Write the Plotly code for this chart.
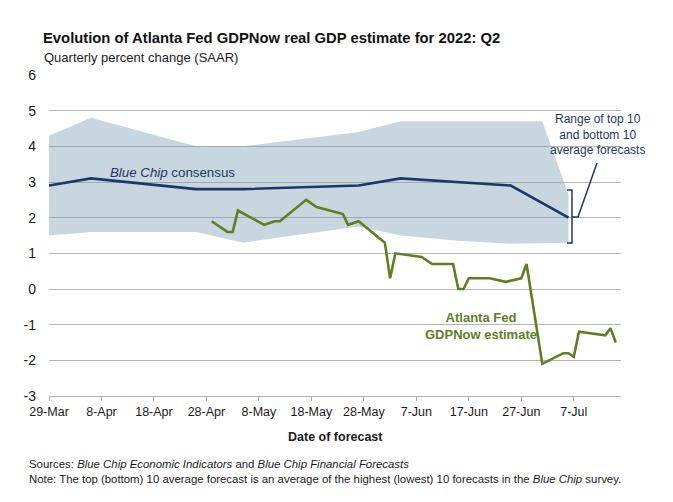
import plotly.graph_objects as go
from datetime import date, timedelta

# ---------------- data ----------------
bc_dates = ["2022-03-29", "2022-04-06", "2022-04-26", "2022-05-05", "2022-05-27",
            "2022-06-04", "2022-06-25", "2022-07-06"]
bc_values = [2.9, 3.1, 2.8, 2.8, 2.9, 3.1, 2.9, 2.0]

band_upper_dates = ["2022-03-29", "2022-04-06", "2022-04-26", "2022-05-05", "2022-05-27",
                    "2022-06-04", "2022-06-25", "2022-07-01", "2022-07-06"]
band_upper = [4.3, 4.8, 4.0, 4.0, 4.4, 4.7, 4.7, 4.7, 2.65]
band_lower_dates = ["2022-03-29", "2022-04-06", "2022-04-26", "2022-05-05", "2022-05-27",
                    "2022-06-04", "2022-06-15", "2022-06-25", "2022-07-06"]
band_lower = [1.5, 1.6, 1.6, 1.3, 1.75, 1.5, 1.35, 1.27, 1.3]

gdpnow_dates = ["2022-04-29", "2022-05-02", "2022-05-03", "2022-05-04", "2022-05-09",
                "2022-05-11", "2022-05-12", "2022-05-17", "2022-05-19", "2022-05-24",
                "2022-05-25", "2022-05-27", "2022-06-01", "2022-06-02", "2022-06-03",
                "2022-06-08", "2022-06-10", "2022-06-14", "2022-06-15", "2022-06-16",
                "2022-06-17", "2022-06-21", "2022-06-24", "2022-06-27", "2022-06-28",
                "2022-07-01", "2022-07-05", "2022-07-06", "2022-07-07", "2022-07-08",
                "2022-07-13", "2022-07-14", "2022-07-15"]
gdpnow_values = [1.9, 1.6, 1.6, 2.2, 1.8, 1.9, 1.9, 2.5, 2.3, 2.1,
                 1.8, 1.9, 1.3, 0.3, 1.0, 0.9, 0.7, 0.7, 0.0, 0.0,
                 0.3, 0.3, 0.2, 0.3, 0.7, -2.1, -1.8, -1.8, -1.9, -1.2,
                 -1.3, -1.1, -1.5]

x_start = date(2022, 3, 29)
x_end = date(2022, 7, 16)
tick_dates = [x_start + timedelta(days=10 * i) for i in range(11)]
tick_labels = [f"{d.day}-{d.strftime('%b')}" for d in tick_dates]
y_ticks = list(range(-3, 7))

NAVY = "#1c3866"
GREEN = "#5f7f22"
FONT = "Liberation Sans, Arial, sans-serif"

fig = go.Figure()

# range band as a polygon
fig.add_trace(go.Scatter(
    x=band_upper_dates + band_lower_dates[::-1],
    y=band_upper + band_lower[::-1],
    fill="toself", fillcolor="rgba(118,152,178,0.40)",
    line=dict(width=0), mode="lines", hoverinfo="skip", showlegend=False))

fig.add_trace(go.Scatter(x=bc_dates, y=bc_values, mode="lines",
                         line=dict(color=NAVY, width=2.6), showlegend=False))
fig.add_trace(go.Scatter(x=gdpnow_dates, y=gdpnow_values, mode="lines",
                         line=dict(color=GREEN, width=2.6), showlegend=False))

fig.update_layout(
    width=673, height=502,
    margin=dict(l=49, r=52, t=75, b=106),
    paper_bgcolor="white", plot_bgcolor="white",
    font=dict(family=FONT, color="#1a1a1a"),
    showlegend=False,
)
fig.update_xaxes(
    type="date",
    range=[x_start.isoformat(), x_end.isoformat()],
    tickvals=[d.isoformat() for d in tick_dates], ticktext=tick_labels,
    tickfont=dict(size=12.5, color="#1a1a1a"),
    ticks="outside", ticklen=4, tickcolor="#a8a8a8",
    showgrid=False, showline=True, linecolor="#b0b0b0", linewidth=1,
    zeroline=False,
)
fig.update_yaxes(
    range=[-3, 6], tickvals=y_ticks, ticktext=[str(v) for v in y_ticks],
    tickfont=dict(size=14, color="#1a1a1a"),
    showgrid=True, gridcolor="#b5b5b5", gridwidth=1,
    zeroline=False, showline=False, ticks="", ticklabelstandoff=12,
)

def px_x(px):
    return (px - 49) / 572.0

def px_y(py):
    return (396 - py) / 321.0

ann = [
    dict(text="<b>Evolution of Atlanta Fed GDPNow real GDP estimate for 2022: Q2</b>",
         x=px_x(41), y=px_y(38), xanchor="left", yanchor="middle",
         font=dict(size=14.8, color="#111111")),
    dict(text="Quarterly percent change (SAAR)",
         x=px_x(42), y=px_y(57), xanchor="left", yanchor="middle",
         font=dict(size=13, color="#1a1a1a")),
    dict(text="<b>Date of forecast</b>",
         x=0.5, y=px_y(437), xanchor="center", yanchor="middle",
         font=dict(size=12.5, color="#1a1a1a")),
    dict(text="Sources: <i>Blue Chip Economic Indicators</i> and <i>Blue Chip Financial Forecasts</i>",
         x=px_x(27), y=px_y(464), xanchor="left", yanchor="middle",
         font=dict(size=11.4, color="#1a1a1a")),
    dict(text="Note: The top (bottom) 10 average forecast is an average of the highest (lowest) 10 forecasts in the <i>Blue Chip</i> survey.",
         x=px_x(27), y=px_y(479), xanchor="left", yanchor="middle",
         font=dict(size=11.4, color="#1a1a1a")),
    dict(text="<i>Blue Chip</i> consensus",
         x=px_x(108), y=px_y(172), xanchor="left", yanchor="middle",
         font=dict(size=13.3, color=NAVY)),
    dict(text="<b>Atlanta Fed<br>GDPNow estimate</b>",
         x=px_x(481), y=px_y(326), xanchor="center", yanchor="middle",
         font=dict(size=13, color=GREEN)),
    dict(text="Range of top 10<br>and bottom 10<br>average forecasts",
         x=px_x(597), y=px_y(134), xanchor="center", yanchor="middle",
         font=dict(size=12, color=NAVY)),
]
for a in ann:
    a.update(xref="paper", yref="paper", showarrow=False)
fig.update_layout(annotations=ann)

# bracket for range annotation
bx0, bx1, bx2, bx3 = px_x(567), px_x(572), px_x(578), px_x(597)
by0, by1, by2, by3 = px_y(190), px_y(243), px_y(217), px_y(163)
fig.add_shape(type="path", xref="paper", yref="paper",
              path=f"M {bx0},{by0} L {bx1},{by0} L {bx1},{by1} L {bx0},{by1} "
                   f"M {bx1},{by2} L {bx2},{by2} L {bx3},{by3}",
              line=dict(color=NAVY, width=1.5))

fig.write_html("out.html",
               config={"displayModeBar": False},
               post_script="document.body.style.margin='0px';document.body.style.padding='0px';")
